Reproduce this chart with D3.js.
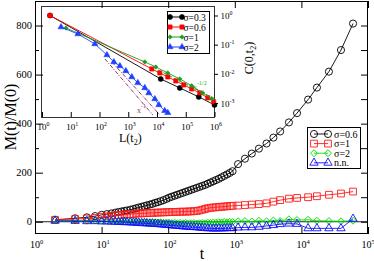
<!DOCTYPE html>
<html>
<head>
<meta charset="utf-8">
<title>M(t)/M(0)</title>
<script src="https://cdn.jsdelivr.net/npm/d3@7"></script>
<style>
body{margin:0;background:#fff;}
text{font-family:"Liberation Serif","Times New Roman",serif;fill:#000;}
</style>
</head>
<body>
<script>
// main panel: t and M(t)/M(0) for each sigma
var tVals = [2,4,6,8,10,12,14,16,18,20,22,24,27,30,33,36,40,44,48,53,58,64,70,77,85,94,103,113,125,137,151,166,183,201,221,243,268,295,324,357,392,432,475,522,575,632,695,765,841,925,1120,1420,1800,2300,3000,3800,4800,6500,8600,12600,17100,25900,39300,59600];
var sig06 = [8,14,18,23,28,31,34,37,40,42,44,46,49,52,55,58,61,64,67,70,73,77,80,84,88,93,98,102,106,110,114,118,122,126,130,134,138,142,146,150,155,160,165,170,175,181,187,193,199,206,235,257,278,298,319,343,368,405,443,498,547,612,700,808];
var sig1 = [8,11,13,16,20,22,24,26,27,28,29,30,31,32,33,34,34,35,35,36,36,37,37,38,38,39,39,40,40,40,41,41,41,42,42,43,44,46,49,52,55,57,58,59,60,61,62,63,64,65,66,68,70,72,75,82,88,94,97,100,104,110,115,123];
var sig2 = [5,5,4,5,4,3,4,3,2,3,2,1,2,1,0,1,-1,0,-1,-2,-1,-2,-3,-2,-4,-3,-4,-5,-4,-6,-5,-6,-5,-7,-6,-5,-7,-6,-5,-6,-4,-5,-3,-4,-2,-3,-1,-2,0,-1,2,3,1,4,2,5,3,10,7,8,4,3,2,4];
var nn = [4,3,2,2,1,1,0,0,-1,-1,-2,-2,-3,-4,-4,-5,-6,-6,-7,-8,-8,-9,-10,-11,-12,-13,-14,-15,-16,-17,-18,-19,-20,-21,-22,-22,-23,-24,-25,-26,-27,-27,-28,-28,-27,-28,-27,-26,-27,-26,-24,-23,-23,-21,-17,-14,-10,-8,-9,-27,-27,-27,-27,12];
var mainLegend = ["σ=0.6","σ=1","σ=2","n.n."];
var mainTicksX = [1,10,100,1000,10000,100000];
var mainTicksY = [0,200,400,600,800];
var mainMinorY = [100,300,500,700];
var mainRightY = [0,100,200,300,400,500,600,700,800];

// inset: C(0,t2) against L(t2)
var L03 = [1.9,13500,62000,283000,1000000];
var C03 = [1.0,0.00668,0.00329,0.00162,0.00086];
var L06 = [1.9,6590,12500,23700,45000,85000,161000,306000,581000,935000];
var C06 = [1.0,0.0147,0.0107,0.00783,0.00571,0.00417,0.00304,0.00222,0.0015,0.0011];
var L1 = [6.8,3770,9080,23700,62000,161000,389000,800000];
var C1 = [0.373,0.0256,0.0172,0.0107,0.00668,0.0039,0.0022,0.0014];
var L2 = [4.6,17.8,69,181,316,511,826,1330,2150,3770,5190,8400,11600,18600,23700];
var C2 = [0.40,0.232,0.106,0.0444,0.0256,0.0187,0.0126,0.0078,0.0049,0.0033,0.0022,0.00138,0.00086,0.00054,0.00046];
var insetLegend = ["σ=0.3","σ=0.6","σ=1","σ=2"];
var insetTicksX = [1,10,100,1000,10000,100000,1000000];
var insetTicksY = [1,0.1,0.01,0.001];
// guide lines x^-1/2 and x^-1
var halfL = [10700,1000000], halfC = [0.0136,0.00141];
var oneAL = [155,7150], oneAC = [0.0324,0.00039];
var oneBL = [270,12500], oneBC = [0.0256,0.00039];

var width=374, height=261;
var svg=d3.select("body").append("svg")
    .attr("width",width)
    .attr("height",height);

var x=d3.scaleLog().domain([1,1e5]).range([35,368]);
var y=d3.scaleLinear().domain([-50,900]).range([234,1]);

function rows(xs,ys){
  return xs.map(function(d,i){return {x:d,y:ys[i]};});
}
// "10" with superscript exponent
function powLabel(g,px,py,v,size){
  var e=Math.round(Math.log10(v));
  var t=g.append("text").attr("x",px-size*0.5).attr("y",py).style("font-size",size+"px");
  t.append("tspan").text("10");
  t.append("tspan").attr("dy",-size*0.42).style("font-size",(size*0.65)+"px").text(e);
  return t;
}
function marker(sel,shape,size,color,filled){
  var sym=d3.symbol().type(shape==="diamond"?d3.symbolSquare:shape).size(size);
  return sel.append("path")
    .attr("d",sym())
    .attr("transform",function(d){
      return "translate("+d[0]+","+d[1]+")"+(shape==="diamond"?" rotate(45)":"");
    })
    .attr("fill",filled?color:"none")
    .attr("stroke",color)
    .attr("stroke-width",filled?0.6:0.9);
}

// zero line
svg.append("line")
  .attr("x1",x(1)).attr("x2",x(1e5))
  .attr("y1",y(0)).attr("y2",y(0))
  .attr("stroke","#222").attr("stroke-width",1);

var mainSeries=[
  {v:sig06,color:"#000",shape:d3.symbolCircle,size:40},
  {v:sig1,color:"#ff1a1a",shape:d3.symbolSquare,size:46},
  {v:sig2,color:"#00e000",shape:"diamond",size:24},
  {v:nn,color:"#1010ff",shape:d3.symbolTriangle,size:30}
];
var line=d3.line().x(function(d){return x(d.x);}).y(function(d){return y(d.y);});

mainSeries.forEach(function(s){
  var data=rows(tVals,s.v);
  svg.append("path")
    .attr("d",line(data))
    .attr("fill","none")
    .attr("stroke",s.color)
    .attr("stroke-width",0.9);
  var g=svg.append("g");
  marker(g.selectAll("path").data(data.map(function(d){return [x(d.x),y(d.y)];})).enter(),
    s.shape,s.size,s.color,false);
});

// main legend
var lg=svg.append("g");
lg.append("rect").attr("x",307.5).attr("y",127.5).attr("width",53).attr("height",41)
  .attr("fill","#fff").attr("stroke","#000").attr("stroke-width",1);
mainSeries.forEach(function(s,i){
  var ly=134+i*9.6;
  lg.append("line").attr("x1",314).attr("x2",328).attr("y1",ly).attr("y2",ly)
    .attr("stroke",s.color).attr("stroke-width",0.9);
  marker(lg.selectAll(null).data([[314,ly],[328,ly]]).enter(),s.shape,s.size,s.color,false);
  lg.append("text").attr("x",334).attr("y",ly+3.5).style("font-size","10px").text(mainLegend[i]);
});

// inset
var xi=d3.scaleLog().domain([1,1e6]).range([42,214.5]);
var yi=d3.scaleLog().domain([1e-3,1]).range([103,15.5]);
var ins=svg.append("g");
ins.append("rect").attr("x",41.5).attr("y",6.5).attr("width",173).attr("height",111)
  .attr("fill","#fff").attr("stroke","#333").attr("stroke-width",1);

var lineI=d3.line().x(function(d){return xi(d.x);}).y(function(d){return yi(d.y);});

function guide(ls,cs,color,dash){
  ins.append("path").attr("d",lineI(rows(ls,cs)))
    .attr("fill","none").attr("stroke",color).attr("stroke-width",1)
    .attr("stroke-dasharray",dash);
}
guide(halfL,halfC,"#22b022","4,2");
guide(oneAL,oneAC,"#993366","4,1.5,1,1.5");
guide(oneBL,oneBC,"#993366","4,1.5,1,1.5");

var insetSeries=[
  {l:L03,c:C03,color:"#000",shape:d3.symbolCircle,size:20},
  {l:L06,c:C06,color:"#ff0000",shape:d3.symbolSquare,size:18},
  {l:L1,c:C1,color:"#1e9e1e",shape:"diamond",size:10},
  {l:L2,c:C2,color:"#1f3fff",shape:d3.symbolTriangle,size:16}
];
insetSeries.forEach(function(s){
  var data=rows(s.l,s.c);
  ins.append("path").attr("d",lineI(data))
    .attr("fill","none").attr("stroke",s.color).attr("stroke-width",0.9);
  marker(ins.append("g").selectAll("path").data(data.map(function(d){return [xi(d.x),yi(d.y)];})).enter(),
    s.shape,s.size,s.color,true);
});

// guide labels
var gl=ins.append("text").attr("x",193).attr("y",90).style("font-size","8px").style("fill","#22b022");
gl.append("tspan").text("x");
gl.append("tspan").attr("dy",-5).style("font-size","6px").text("-1/2");
var gl2=ins.append("text").attr("x",137).attr("y",113).style("font-size","8px").style("fill","#993366");
gl2.append("tspan").text("x");
gl2.append("tspan").attr("dy",-5).style("font-size","6px").text("-1");

// inset legend
var il=ins.append("g");
il.append("rect").attr("x",167.5).attr("y",11.5).attr("width",42).attr("height",42)
  .attr("fill","#fff").attr("stroke","#000").attr("stroke-width",1);
insetSeries.forEach(function(s,i){
  var ly=17+i*10;
  il.append("line").attr("x1",170).attr("x2",182).attr("y1",ly).attr("y2",ly)
    .attr("stroke",s.color).attr("stroke-width",1);
  marker(il.selectAll(null).data([[170,ly],[182,ly]]).enter(),s.shape,s.size,s.color,true);
  il.append("text").attr("x",183.5).attr("y",ly+3.5).style("font-size","9.5px").text(insetLegend[i]);
});

// inset axes
ins.append("g").attr("transform","translate(0,117)")
  .call(d3.axisTop(xi).tickValues(insetTicksX).tickSize(5).tickFormat(""))
  .call(function(g){g.select(".domain").remove();});
ins.append("g").attr("transform","translate(214,0)")
  .call(d3.axisRight(yi).tickValues(insetTicksY).tickSize(4).tickFormat(""))
  .call(function(g){g.select(".domain").remove();});
insetTicksX.forEach(function(v){powLabel(ins,xi(v),130,v,9);});
insetTicksY.forEach(function(v){powLabel(ins,225,yi(v)+3.5,v,9);});

var lt=ins.append("text").attr("x",119).attr("y",142).style("font-size","12px");
lt.append("tspan").text("L(t");
lt.append("tspan").attr("dy",3).style("font-size","8px").text("2");
lt.append("tspan").attr("dy",-3).text(")");
var ct=ins.append("text").attr("transform","translate(253,58) rotate(-90)")
  .attr("text-anchor","middle").style("font-size","12px");
ct.append("tspan").text("C(0,t");
ct.append("tspan").attr("dy",3).style("font-size","8px").text("2");
ct.append("tspan").attr("dy",-3).text(")");

// main frame and axes (drawn over inset edge like the original)
svg.append("rect").attr("x",35.5).attr("y",1.5).attr("width",332).attr("height",232)
  .attr("fill","none").attr("stroke","#000").attr("stroke-width",1);
function noDomain(g){g.select(".domain").remove();}
svg.append("g").attr("transform","translate(0,234)")
  .call(d3.axisTop(x).tickValues(mainTicksX).tickSize(7).tickFormat("")).call(noDomain);
svg.append("g").attr("transform","translate(0,1)")
  .call(d3.axisBottom(x).tickValues(mainTicksX).tickSize(7).tickFormat("")).call(noDomain);
svg.append("g").attr("transform","translate(35,0)")
  .call(d3.axisRight(y).tickValues(mainTicksY).tickSize(8).tickFormat("")).call(noDomain);
svg.append("g").attr("transform","translate(35,0)")
  .call(d3.axisRight(y).tickValues(mainMinorY).tickSize(4).tickFormat("")).call(noDomain);
svg.append("g").attr("transform","translate(368,0)")
  .call(d3.axisLeft(y).tickValues(mainRightY).tickSize(7).tickFormat("")).call(noDomain);

mainTicksX.forEach(function(v){powLabel(svg,x(v)-(v===100000?1.5:0),248,v,10);});
svg.selectAll(".ylab").data(mainTicksY).enter().append("text")
  .attr("class","ylab")
  .attr("x",32).attr("y",function(d){return y(d)+3.7;})
  .attr("text-anchor","end").style("font-size","10.5px")
  .text(function(d){return d;});

svg.append("text").attr("x",202).attr("y",259).attr("text-anchor","middle")
  .style("font-size","16px").text("t");
svg.append("text").attr("transform","translate(16,117) rotate(-90)")
  .attr("text-anchor","middle").style("font-size","16px").text("M(t)/M(0)");
</script>
</body>
</html>
